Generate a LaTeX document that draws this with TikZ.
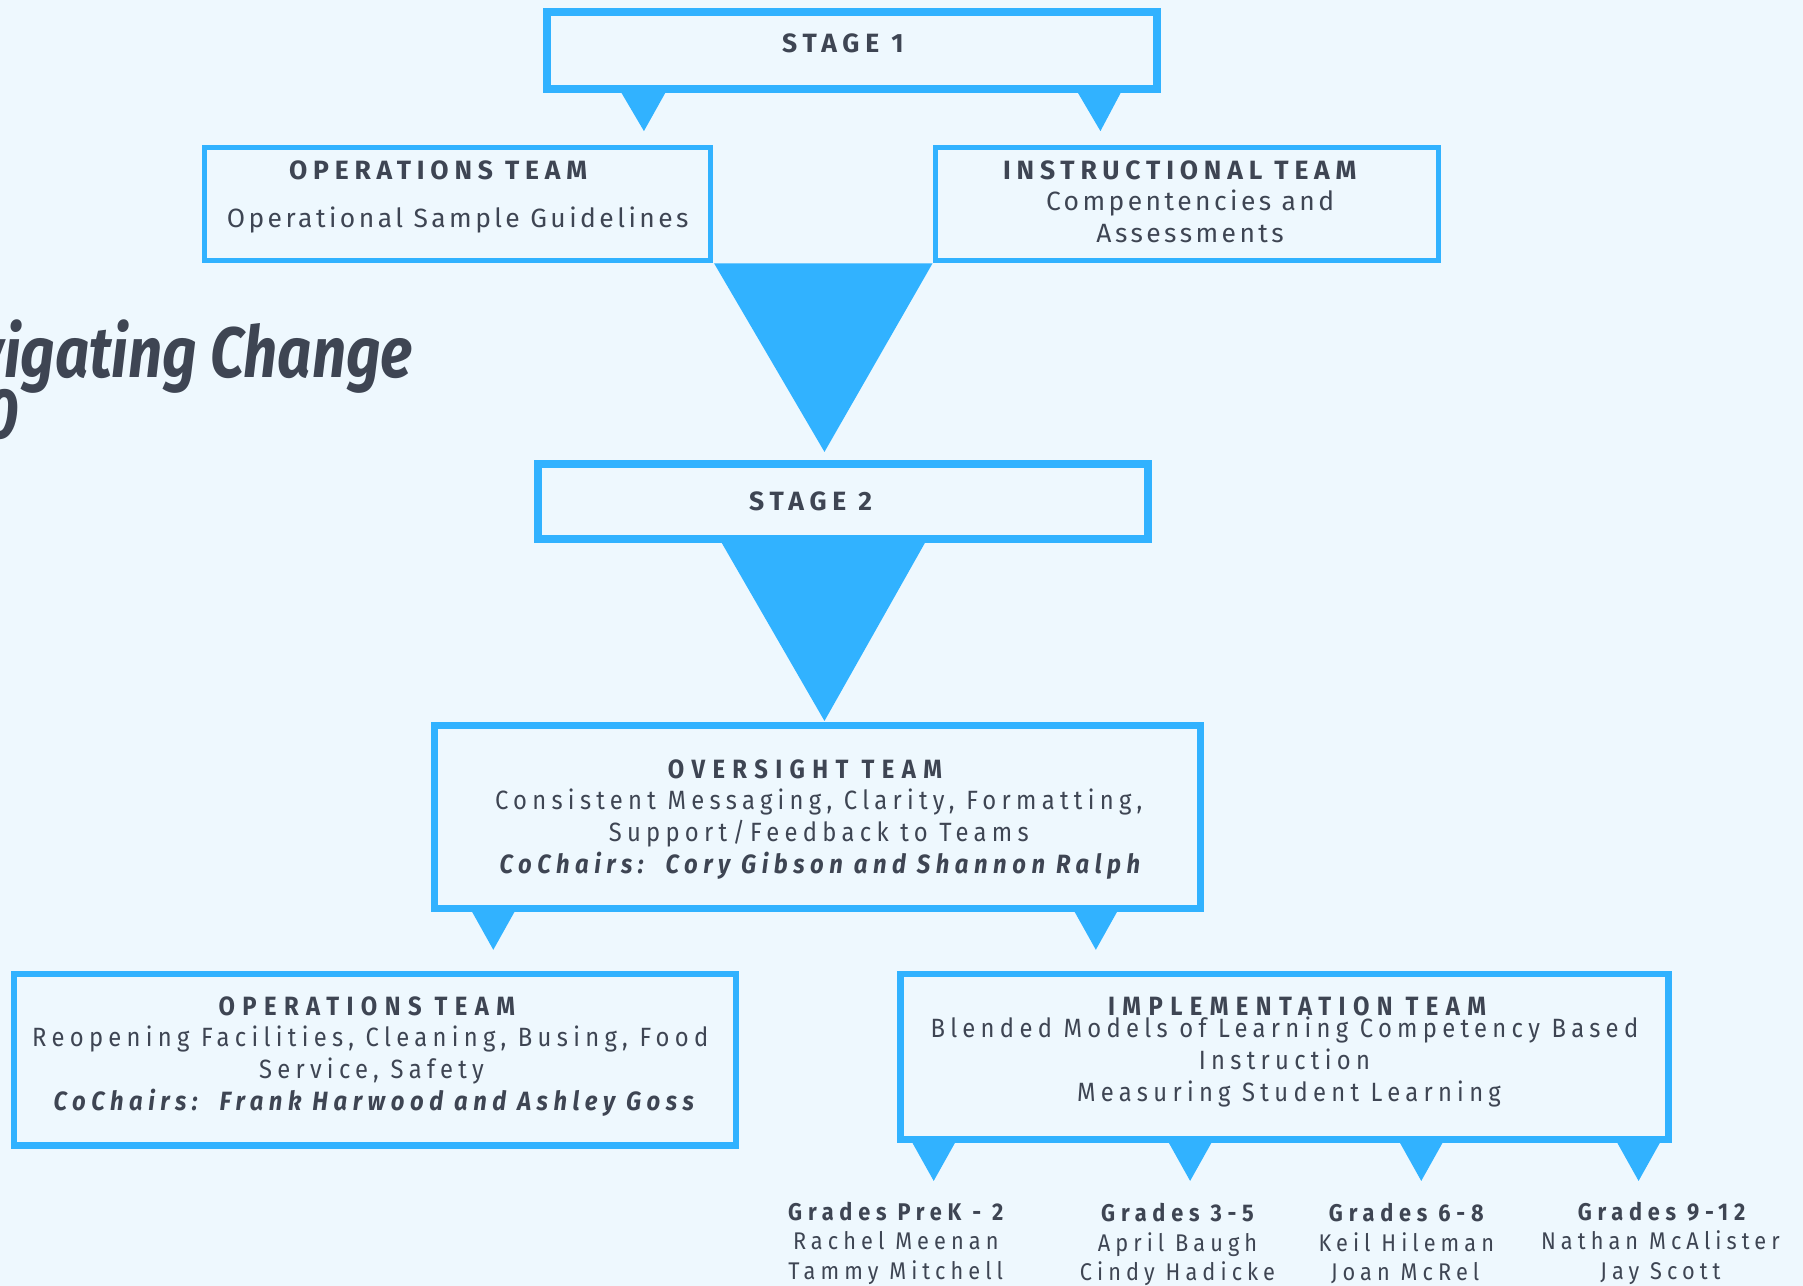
\documentclass[tikz,border=0pt]{standalone}
\usepackage{fontspec}
\setmainfont{Fira Sans}
\newfontfamily\topfont{Fira Sans}[LetterSpace=13]
\newfontfamily\toptitlefont{Fira Sans}[LetterSpace=22]
\newfontfamily\lowfont{Fira Sans}[FakeStretch=0.9,LetterSpace=20]
\newfontfamily\lowtitlefont{Fira Sans}[FakeStretch=0.9,LetterSpace=28]
\newfontfamily\lowitfont{Fira Sans}[FakeStretch=0.9,LetterSpace=21]
\newfontfamily\gradefont{Fira Sans}[FakeStretch=0.9,LetterSpace=21]
\newfontfamily\gradetitlefont{Fira Sans}[FakeStretch=0.9,LetterSpace=24]
\newfontfamily\headfont{Fira Sans}[FakeStretch=0.84]
\definecolor{bgc}{HTML}{EEF8FE}
\definecolor{bluec}{HTML}{31B2FF}
\definecolor{txtc}{HTML}{3E4553}
\tikzset{
  stagebox/.style={draw=bluec, line width=7pt, fill=bgc, inner sep=0pt},
  topbox/.style={draw=bluec, line width=4.3pt, fill=bgc, inner sep=0pt},
  lowbox/.style={draw=bluec, line width=5.7pt, fill=bgc, inner sep=0pt},
  pointer/.style={fill=bluec},
  txt/.style={text=txtc, inner sep=0pt, anchor=base},
  ttitle/.style={txt, font=\toptitlefont\bfseries\fontsize{23}{27}\selectfont},
  tbody/.style={txt, font=\topfont\fontsize{23}{27}\selectfont},
  ltitle/.style={txt, font=\lowtitlefont\bfseries\fontsize{23}{27}\selectfont},
  lbody/.style={txt, font=\lowfont\fontsize{23}{27}\selectfont},
  lital/.style={txt, font=\lowitfont\bfseries\itshape\fontsize{23}{27}\selectfont},
  gtitle/.style={txt, font=\gradetitlefont\bfseries\fontsize{21}{25}\selectfont},
  gbody/.style={txt, font=\gradefont\fontsize{21}{25}\selectfont},
  headline/.style={text=txtc, inner sep=0pt, anchor=base east, font=\headfont\bfseries\itshape\fontsize{62}{70}\selectfont}
}
\begin{document}
\begin{tikzpicture}[x=1pt,y=-1pt]
\fill[bgc] (0,0) rectangle (1568,1118);
\useasboundingbox (0,0) rectangle (1568,1118);
\clip (0,0) rectangle (1568,1118);

% headline (cut off at left edge)
\node[headline] (head1) at (359,328) {Navigating Change};
\node[headline] (head2) at (17,381) {2020};

% pointers
\fill[pointer] (540,80) -- (579,80) -- (560,114) -- cycle;
\fill[pointer] (937,80) -- (975,80) -- (957,114) -- cycle;
\fill[pointer] (621,229) -- (811,229) -- (717,393) -- cycle;
\fill[pointer] (627,471) -- (805,471) -- (717,627) -- cycle;
\fill[pointer] (410,792) -- (448,792) -- (429,826) -- cycle;
\fill[pointer] (934,792) -- (972,792) -- (953,826) -- cycle;
\fill[pointer] (793,993) -- (831,993) -- (812,1027) -- cycle;
\fill[pointer] (1016,993) -- (1054,993) -- (1035,1027) -- cycle;
\fill[pointer] (1217,993) -- (1255,993) -- (1236,1027) -- cycle;
\fill[pointer] (1406,993) -- (1444,993) -- (1425,1027) -- cycle;

% boxes
\node[stagebox, minimum width=531pt, minimum height=67pt] (s1) at (741,44) {};
\node[stagebox, minimum width=531pt, minimum height=65pt] (s2) at (733,436) {};
\node[topbox, minimum width=439.7pt, minimum height=98.7pt] (ops1) at (398,177.5) {};
\node[topbox, minimum width=437.7pt, minimum height=98.7pt] (ins1) at (1032,177.5) {};
\node[lowbox, minimum width=666pt, minimum height=159pt] (ovs) at (711,710.5) {};
\node[lowbox, minimum width=628pt, minimum height=149pt] (ops2) at (326,921.5) {};
\node[lowbox, minimum width=668pt, minimum height=144pt] (imp) at (1117,919) {};

% texts
\node[ttitle] (s1t) at (733,46) {STAGE 1};
\node[ttitle] (s2t) at (705,444) {STAGE 2};
\node[ttitle] (ops1t) at (381,156) {OPERATIONS TEAM};
\node[tbody] (ops1b) at (398,198) {Operational Sample Guidelines};
\node[ttitle] (ins1t) at (1026,156) {INSTRUCTIONAL TEAM};
\node[tbody] (ins1b) at (1035,183) {Compentencies and};
\node[tbody] (ins1c) at (1035,211) {Assessments};

\node[ltitle] (ovst) at (700,677) {OVERSIGHT TEAM};
\node[lbody] (ovsb) at (712,704) {Consistent Messaging, Clarity, Formatting,};
\node[lbody] (ovsc) at (712,732) {Support/Feedback to Teams};
\node[lital] (ovsd) at (713,760) {CoChairs:\ \ Cory Gibson and Shannon Ralph};

\node[ltitle] (ops2t) at (319,883) {OPERATIONS TEAM};
\node[lbody] (ops2b) at (322,910) {Reopening Facilities, Cleaning, Busing, Food};
\node[lbody] (ops2c) at (323,938) {Service, Safety};
\node[lital] (ops2d) at (325,966) {CoChairs:\ \ Frank Harwood and Ashley Goss};

\node[ltitle] (impt) at (1128,883) {IMPLEMENTATION TEAM};
\node[lbody] (impb) at (1117,902) {Blended Models of Learning Competency Based};
\node[lbody] (impc) at (1117,930) {Instruction};
\node[lbody] (impd) at (1121,958) {Measuring Student Learning};

\node[gtitle] (g1t) at (779,1061) {Grades PreK - 2};
\node[gbody] (g1a) at (779,1087) {Rachel Meenan};
\node[gbody] (g1b) at (779,1113) {Tammy Mitchell};
\node[gtitle] (g2t) at (1024,1062) {Grades 3-5};
\node[gbody] (g2a) at (1024,1088) {April Baugh};
\node[gbody] (g2b) at (1024,1114) {Cindy Hadicke};
\node[gtitle] (g3t) at (1223,1062) {Grades 6-8};
\node[gbody] (g3a) at (1223,1088) {Keil Hileman};
\node[gbody] (g3b) at (1222,1114) {Joan McRel};
\node[gtitle] (g4t) at (1445,1061) {Grades 9-12};
\node[gbody] (g4a) at (1444,1087) {Nathan McAlister};
\node[gbody] (g4b) at (1444,1113) {Jay Scott};
\end{tikzpicture}
\end{document}
